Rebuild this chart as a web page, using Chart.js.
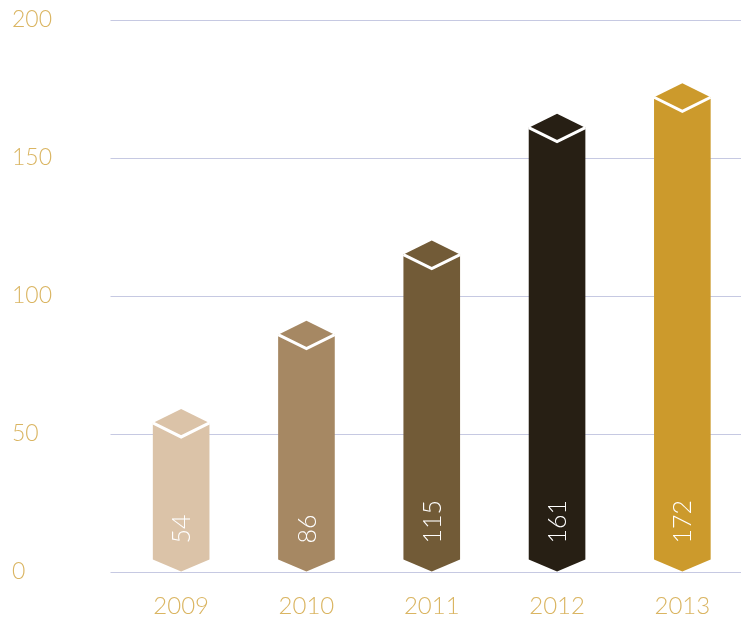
<!DOCTYPE html>
<html>
<head>
<meta charset="utf-8">
<script src="https://cdn.jsdelivr.net/npm/chart.js@4/dist/chart.umd.min.js"></script>
<style>
    html, body { margin: 0; padding: 0; background: #ffffff; overflow: hidden; }
    #wrap { width: 746px; height: 617px; position: relative; }
</style>
</head>
<body>
<div id="wrap"><canvas id="chart"></canvas></div>
<script>
// chart values
const years = ['2009', '2010', '2011', '2012', '2013'];
const counts = [54, 86, 115, 161, 172];
const barColors = ['#dbc3a8', '#a68863', '#725b37', '#271f14', '#cc9a2c'];
const yTicks = [0, 50, 100, 150, 200];

const GOLD = '#dab562';
const GRID = '#c6c9e2';
const FONT = 'Lato, "Open Sans", sans-serif';

/**
 * Draws each bar as a column with a diamond cap and a pointed foot,
 * using the positions the bar elements got from the scales.
 */
const prismBars = {
    id: 'prismBars',
    afterDatasetsDraw(chart) {
        const ctx = chart.ctx;
        const meta = chart.getDatasetMeta(0);
        const capH = 14;   // half height of the top diamond
        const footH = 12;  // depth of the bottom point

        meta.data.forEach((bar, i) => {
            const { x, y, base, width } = bar.getProps(['x', 'y', 'base', 'width'], true);
            const l = x - width / 2;
            const r = x + width / 2;

            ctx.save();
            ctx.fillStyle = barColors[i];
            ctx.beginPath();
            ctx.moveTo(l, y);
            ctx.lineTo(x, y - capH);
            ctx.lineTo(r, y);
            ctx.lineTo(r, base - footH);
            ctx.lineTo(x, base);
            ctx.lineTo(l, base - footH);
            ctx.closePath();
            ctx.fill();

            // white edge under the diamond cap
            ctx.strokeStyle = '#ffffff';
            ctx.lineWidth = 3;
            ctx.lineJoin = 'miter';
            ctx.beginPath();
            ctx.moveTo(l, y);
            ctx.lineTo(x, y + capH);
            ctx.lineTo(r, y);
            ctx.stroke();

            // value, written upwards near the foot
            ctx.translate(x, base - 28);
            ctx.rotate(-Math.PI / 2);
            ctx.fillStyle = '#ffffff';
            ctx.font = '300 25px ' + FONT;
            ctx.textAlign = 'left';
            ctx.textBaseline = 'middle';
            ctx.fillText(String(counts[i]), 0, 1);
            ctx.restore();
        });
    }
};

new Chart(document.getElementById('chart'), {
    type: 'bar',
    data: {
        labels: years,
        datasets: [{
            data: counts,
            backgroundColor: 'rgba(0,0,0,0)',
            borderWidth: 0,
            barPercentage: 0.452,
            categoryPercentage: 1
        }]
    },
    options: {
        responsive: true,
        maintainAspectRatio: false,
        animation: false,
        events: [],
        layout: { padding: { left: 12, right: 1, top: 20, bottom: 0 } },
        plugins: {
            legend: { display: false },
            tooltip: { enabled: false }
        },
        scales: {
            x: {
                grid: { display: false, drawTicks: false },
                border: { display: false },
                ticks: {
                    color: GOLD,
                    font: { family: FONT, size: 24, weight: '300' },
                    padding: 20
                },
                afterFit(scale) { scale.height = 45; }
            },
            y: {
                min: 0,
                max: 200,
                afterBuildTicks(scale) {
                    scale.ticks = yTicks.map(v => ({ value: v }));
                },
                grid: { color: GRID, lineWidth: 1, drawTicks: true, tickLength: 8 },
                border: { display: false },
                ticks: {
                    color: GOLD,
                    crossAlign: 'far',
                    font: { family: FONT, size: 23, weight: '300' }
                },
                afterFit(scale) { scale.width = 106.5; }
            }
        }
    },
    plugins: [prismBars]
});
</script>
</body>
</html>
